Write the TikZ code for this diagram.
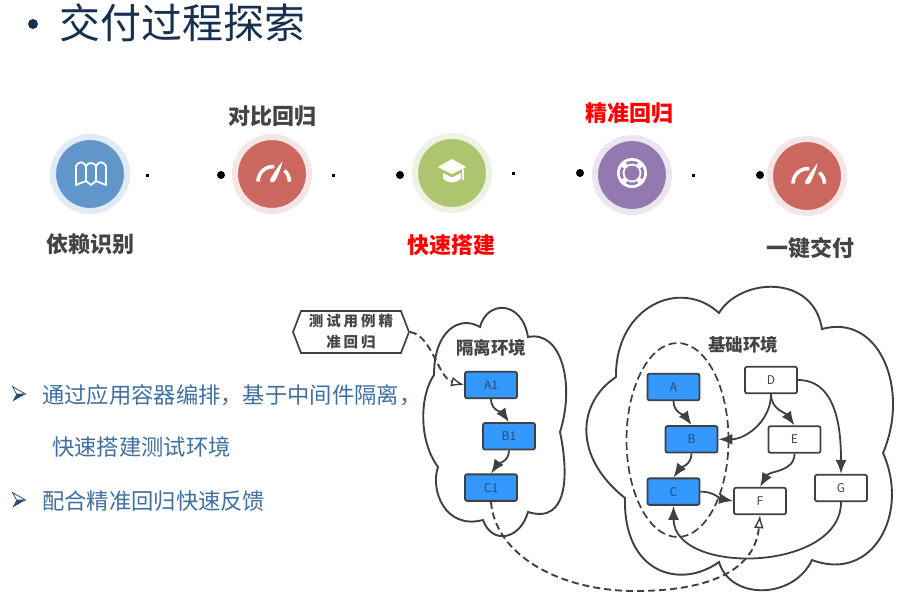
\documentclass[tikz,border=0pt]{standalone}
\usepackage{fontspec}
\setmainfont{Noto Sans CJK SC}
\newfontfamily\spacedcjk[LetterSpace=20]{Noto Sans CJK SC}
\usepackage{tikz}
\usetikzlibrary{positioning,arrows.meta,shapes.symbols}

\definecolor{linegray}{HTML}{404040}
\definecolor{labelgray}{HTML}{444444}
\definecolor{boxblue}{HTML}{3399FF}
\definecolor{boxtext}{HTML}{2B4A6F}
\definecolor{titlenavy}{HTML}{17304F}
\definecolor{bodyblue}{HTML}{3F6F9F}
\definecolor{mapblue}{HTML}{6196CB}
\definecolor{mapring}{HTML}{E1EAF5}
\definecolor{gaugered}{HTML}{CC675F}
\definecolor{gaugering}{HTML}{F5E5E4}
\definecolor{capgreen}{HTML}{ADC56F}
\definecolor{capring}{HTML}{EEF2E3}
\definecolor{buoypurple}{HTML}{9478B0}
\definecolor{buoyring}{HTML}{E9E6F1}

\begin{document}
\begin{tikzpicture}[
  x=1pt, y=-1pt,
  badge/.style={circle, minimum size=74pt, inner sep=0pt, outer sep=0pt, line width=6pt},
  lbl/.style={font=\fontsize{22}{24}\selectfont\bfseries, text=labelgray, inner sep=0pt},
  hot/.style={lbl, text=red},
  body/.style={font=\fontsize{22.3}{24}\selectfont, text=bodyblue, inner sep=0pt, anchor=west},
  bigdot/.style={circle, fill=black, minimum size=8pt, inner sep=0pt},
  tinydot/.style={rectangle, fill=black, minimum size=3pt, inner sep=0pt},
  box/.style={draw=linegray, line width=1.8pt, rounded corners=2pt, minimum width=52pt,
              minimum height=26.5pt, inner sep=0pt, font=\fontsize{12}{14}\selectfont},
  filledbox/.style={box, fill=boxblue, text=boxtext},
  plainbox/.style={box, fill=white, text=labelgray},
  envname/.style={font=\fontsize{17.5}{19}\selectfont\bfseries, text=labelgray, inner sep=0pt},
  cloudline/.style={draw=linegray, line width=1.9pt},
  arr/.style={-{Latex[length=14pt,width=11pt]}, draw=linegray, line width=1.8pt},
  dasharr/.style={-{Latex[length=13pt,width=10pt,fill=white,line width=1.4pt]}, draw=linegray, line width=1.9pt,
                  dash pattern=on 7pt off 4pt},
  gauge/.pic={
    \draw[white, line width=3.6pt] (-15,7.5) arc[start angle=180, end angle=85, radius=15pt];
    \draw[white, line width=3.6pt] (11.5,-3.5) arc[start angle=48, end angle=0, radius=15pt];
    \fill[white] (-3,6) .. controls (-2,3) and (5,-7) .. (9.5,-13) .. controls (8,-4) and (3,5) .. (2,7)
      .. controls (1,9) and (-3,9) .. (-3,6);
  },
  arrowmark/.pic={
    \fill[white] (-6.5,-7.5) -- (6.5,0) -- (-2.5,0) -- cycle;
    \draw[bodyblue!80!black, line width=0.8pt] (-6.5,-7.5) -- (6.5,0) -- (-2.5,0) -- cycle;
    \fill[bodyblue!70!black] (-6.5,7.5) -- (6.5,0) -- (-2.5,0) -- cycle;
  }
]
\useasboundingbox (0,0) rectangle (899,611);

% heading
\fill[titlenavy] (33,24) circle (5pt);
\node[font=\fontsize{41}{44}\selectfont, text=titlenavy, inner sep=0pt, anchor=west] (heading)
  at (59.5,23) {交付过程探索};

% process row
\node[badge, fill=mapblue, draw=mapring] (mapicon) at (90,174) {};
\node[badge, fill=gaugered, draw=gaugering] (gaugeone) at (272,174) {};
\node[badge, fill=capgreen, draw=capring] (capicon) at (452,173) {};
\node[badge, fill=buoypurple, draw=buoyring] (buoyicon) at (632,175) {};
\node[badge, fill=gaugered, draw=gaugering] (gaugetwo) at (807,176) {};

\node[lbl, below=22pt of mapicon] (dep) {依赖识别};
\node[lbl, above=10pt of gaugeone] (diff) {对比回归};
\node[hot, below=24pt of capicon, xshift=-1pt] (quick) {快速搭建};
\node[hot, above=14pt of buoyicon, xshift=-3pt] (exact) {精准回归};
\node[lbl, below=24pt of gaugetwo, xshift=3pt] (deliver) {一键交付};

\foreach \dx/\dy [count=\i] in {147/175, 333/175, 513/173, 693/175}
  \node[tinydot] (small\i) at (\dx,\dy) {};
\foreach \dx/\dy [count=\i] in {221/175, 400/175, 580/173, 760/175}
  \node[bigdot] (large\i) at (\dx,\dy) {};

% icons
\begin{scope}[shift={(91,174)}, white, line width=1.8pt, line join=round]
  \draw (-15,-8) .. controls (-12,-13) and (-8,-13) .. (-5,-8) .. controls (-3,-12) and (3,-12) .. (5,-8)
    .. controls (8,-13) and (12,-13) .. (15,-8) -- (15,11) -- (5,7) -- (0,11) -- (-5,7) -- (-15,11) -- cycle;
  \draw (-5,-8) -- (-5,7) (5,-8) -- (5,7);
\end{scope}
\pic at (273,174) {gauge};
\pic at (808,176) {gauge};
\begin{scope}[shift={(452,172)}]
  \fill[white] (-14,-5) -- (0,-13) -- (14,-5) -- (0,2) -- cycle;
  \fill[white] (-9,1) -- (0,5.5) -- (9,1) -- (9,6) .. controls (5,12) and (-5,12) .. (-9,6) -- cycle;
  \draw[white, line width=1.6pt] (11,-3) -- (11,8);
\end{scope}
\begin{scope}[shift={(632,173)}]
  \fill[white] (0,0) circle (15pt);
  \fill[buoypurple] (0,0) circle (7.5pt);
  \foreach \a in {0,90,180,270}
    \draw[buoypurple, line width=2.6pt] (\a-30:10.8pt) arc[start angle=\a-30, end angle=\a+30, radius=10.8pt];
\end{scope}

% notes
\pic at (19,394) {arrowmark};
\pic at (19,500) {arrowmark};
\node[body] (noteone) at (42,395) {通过应用容器编排，基于中间件隔离，};
\node[body] (notetwo) at (52,447) {快速搭建测试环境};
\node[body] (notethree) at (42,501) {配合精准回归快速反馈};

% clouds
\draw[cloudline] (434,375) .. controls (434,330) and (460,315) .. (480,327)
  .. controls (487,300) and (522,300) .. (528,337)
  .. controls (562,330) and (575,385) .. (560,432)
  .. controls (568,470) and (570,525) .. (528,512)
  .. controls (520,540) and (492,545) .. (483,520)
  .. controls (445,530) and (430,490) .. (438,467)
  .. controls (418,440) and (420,395) .. (434,375);
\draw[cloudline] (616,377) .. controls (615,307) and (680,277) .. (719,313)
  .. controls (740,278) and (813,273) .. (822,329)
  .. controls (880,313) and (910,390) .. (883,453)
  .. controls (910,513) and (873,583) .. (812,560)
  .. controls (793,600) and (730,600) .. (719,562)
  .. controls (680,590) and (623,573) .. (625,498)
  .. controls (573,457) and (577,403) .. (616,377);
\draw[draw=linegray, line width=1.7pt, dash pattern=on 8pt off 4pt]
  (677.5,440) ellipse [x radius=51, y radius=97];

\node[envname] (isoname) at (491,348) {隔离环境};
\node[envname] (basename) at (743,345) {基础环境};

\node[filledbox] (A1) at (491,385) {A1};
\node[filledbox, below=23pt of A1, xshift=18pt] (B1) {B1};
\node[filledbox, below=23pt of B1, xshift=-18pt] (C1) {C1};

\node[filledbox] (A) at (673.5,387) {A};
\node[filledbox, below=24pt of A, xshift=18pt] (B) {B};
\node[filledbox, below=24pt of B, xshift=-18pt] (C) {C};
\node[plainbox] (D) at (771,380) {D};
\node[plainbox] (E) at (794.5,439.5) {E};
\node[plainbox] (F) at (760,501) {F};
\node[plainbox] (G) at (841,488) {G};

\node[signal, signal to=west and east, signal pointer angle=138, draw=linegray, line width=1.7pt,
      minimum width=116pt, minimum height=42pt, inner sep=0pt, align=center,
      font=\fontsize{14.5}{21}\selectfont\bfseries\spacedcjk, text=labelgray] (case) at (351,332)
  {测试用例精\\准回归};

\draw[dasharr] (case.east) .. controls (432,335) and (438,378) .. (A1.west);
\draw[arr] (A1.south) to[out=-90, in=125] (B1.north);
\draw[arr] (B1.south) to[out=-90, in=55] (C1.north);
\draw[dasharr] (C1.south) .. controls (495,555) and (560,591) .. (635,591)
  .. controls (710,591) and (755,570) .. (F.south);

\draw[arr] (A.south) to[out=-90, in=125] (B.north);
\draw[arr] (B.south) to[out=-90, in=55] (C.north);
\draw[arr] (C.east) to[out=0, in=170] (F.west);
\draw[arr] (D.south) to[out=-90, in=0] (B.east);
\draw[arr] (D.south) to[out=-90, in=125] (E.north);
\draw[arr] (D.east) to[out=0, in=90] (G.north);
\draw[arr] (E.south) to[out=-90, in=60] (F.north);
\draw[arr] (G.south) to[out=-90, in=-90, looseness=1.07] (C.south);
\end{tikzpicture}
\end{document}
